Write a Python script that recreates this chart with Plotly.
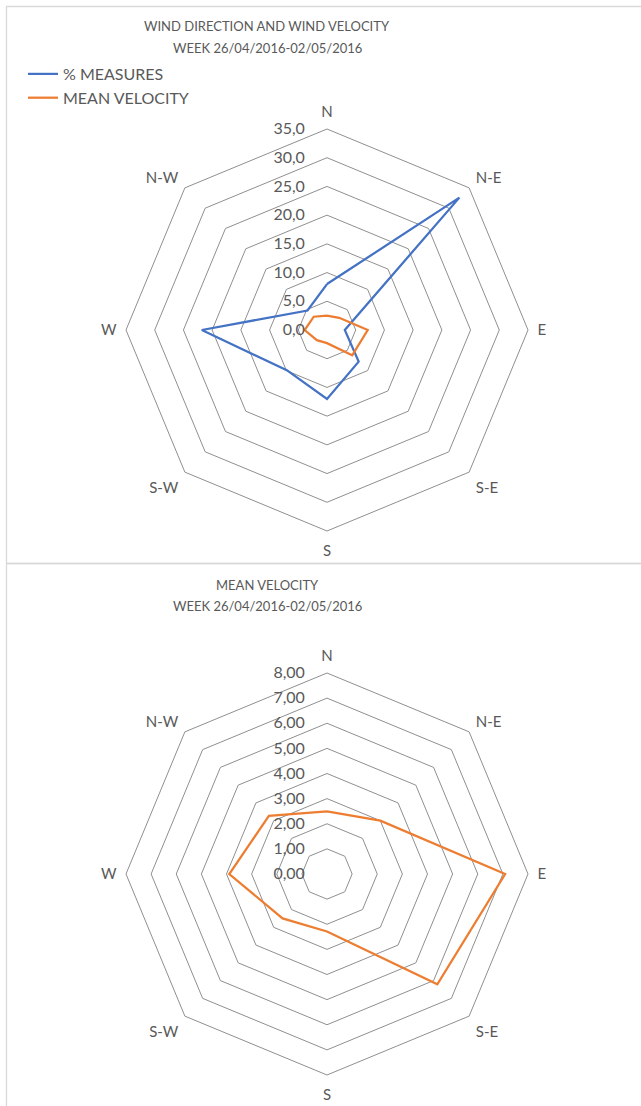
import plotly.graph_objects as go

# Wind sectors, clockwise from north
directions = ["N", "N-E", "E", "S-E", "S", "S-W", "W", "N-W"]
# Share of measurements per sector (%)
measures_pct = [8.0, 32.6, 3.1, 7.8, 12.0, 9.9, 21.8, 4.8]
# Mean wind velocity per sector
mean_velocity = [2.49, 3.00, 7.09, 6.21, 2.29, 2.50, 3.89, 3.27]

title_top = ["WIND DIRECTION AND WIND VELOCITY", "WEEK 26/04/2016-02/05/2016"]
title_bottom = ["MEAN VELOCITY", "WEEK 26/04/2016-02/05/2016"]

BLUE = "#4472C4"
ORANGE = "#ED7D31"
TEXT = "#595959"
GRID = "#8f8f8f"
FONT = "Lato"

W, H = 641, 1106


def closed(vals):
    return list(vals) + [vals[0]]


fig = go.Figure()
fig.add_trace(go.Scatterpolar(
    r=closed(measures_pct), theta=closed(directions), mode="lines",
    name="% MEASURES", line=dict(color=BLUE, width=2.25), subplot="polar",
))
fig.add_trace(go.Scatterpolar(
    r=closed(mean_velocity), theta=closed(directions), mode="lines",
    name="MEAN VELOCITY", line=dict(color=ORANGE, width=2.25), subplot="polar",
))
fig.add_trace(go.Scatterpolar(
    r=closed(mean_velocity), theta=closed(directions), mode="lines",
    name="MEAN VELOCITY", line=dict(color=ORANGE, width=2.25), subplot="polar2",
    showlegend=False,
))


def px_domain(cx, cy, rad):
    x0, x1 = (cx - rad) / W, (cx + rad) / W
    y0, y1 = (H - (cy + rad)) / H, (H - (cy - rad)) / H
    return dict(x=[x0, x1], y=[y0, y1])


def polar_layout(cx, cy, rmax, dtick, fmt):
    return dict(
        domain=px_domain(cx, cy, 201),
        gridshape="linear",
        bgcolor="rgba(0,0,0,0)",
        angularaxis=dict(
            type="category", categoryarray=directions, direction="clockwise",
            rotation=90, showgrid=False, showline=True, linecolor=GRID,
            linewidth=1, ticks="outside", ticklen=6, tickcolor="rgba(0,0,0,0)",
            tickfont=dict(size=15, color=TEXT, family=FONT),
        ),
        radialaxis=dict(
            range=[0, rmax], dtick=dtick, tick0=0, tickformat=fmt, angle=90,
            tickangle=90, showline=False, gridcolor=GRID, gridwidth=1,
            ticks="outside", ticklen=16, tickcolor="rgba(0,0,0,0)",
            side="counterclockwise",
            tickfont=dict(size=16, color=TEXT, family=FONT),
        ),
    )


def title_lines(lines, y_px):
    return [
        dict(text=t, x=267 / W, y=1 - y / H, xref="paper", yref="paper",
             xanchor="center", yanchor="middle", showarrow=False,
             font=dict(size=13, color=TEXT, family=FONT))
        for t, y in zip(lines, y_px)
    ]


fig.update_layout(
    width=W, height=H,
    margin=dict(l=0, r=0, t=0, b=0),
    paper_bgcolor="white",
    separators=", ",
    font=dict(family=FONT, color=TEXT),
    polar=polar_layout(327, 330, 35, 5, ".1f"),
    polar2=polar_layout(327, 874, 8, 1, ".2f"),
    showlegend=True,
    legend=dict(
        x=23 / W, y=1 - 57 / H, xanchor="left", yanchor="top",
        font=dict(size=16, color=TEXT, family=FONT),
        itemwidth=30, tracegroupgap=0, bgcolor="rgba(0,0,0,0)",
    ),
    annotations=title_lines(title_top, [26, 48]) + title_lines(title_bottom, [585, 606]),
    shapes=[
        # chart frames
        dict(type="rect", xref="paper", yref="paper",
             x0=6.5 / W, x1=1.2, y0=1 - 563.5 / H, y1=1 - 6.5 / H,
             line=dict(color="#d9d9d9", width=1.3)),
        dict(type="rect", xref="paper", yref="paper",
             x0=6.5 / W, x1=1.2, y0=-0.1, y1=1 - 563.5 / H,
             line=dict(color="#d9d9d9", width=1.3)),
    ],
)

fig.write_html("out.html")
